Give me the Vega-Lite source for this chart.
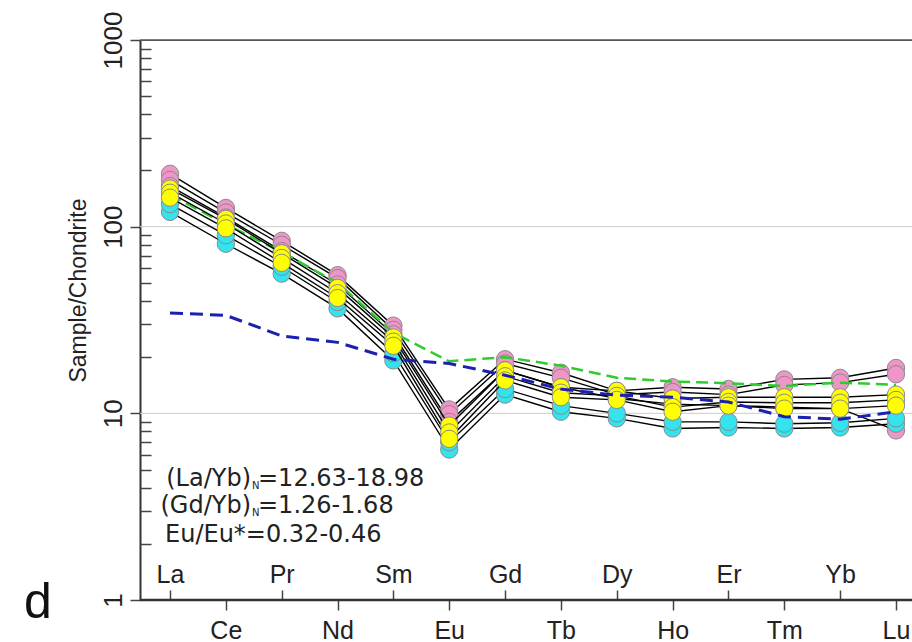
{
  "$schema": "https://vega.github.io/schema/vega-lite/v6.json",
  "width": 772,
  "height": 560,
  "autosize": {"type": "none"},
  "padding": {"left": 140, "top": 40, "right": 0, "bottom": 42},
  "background": "white",
  "config": {"view": {"stroke": null}, "axis": {"labelFont": "Liberation Sans", "titleFont": "Liberation Sans", "labelColor": "#222", "titleColor": "#222"}},
  "datasets": {
    "ree": [
      {"s":"P1","grp":"pink","el":"La","v":192},{"s":"P1","grp":"pink","el":"Ce","v":126},{"s":"P1","grp":"pink","el":"Pr","v":84},{"s":"P1","grp":"pink","el":"Nd","v":55},{"s":"P1","grp":"pink","el":"Sm","v":29.5},{"s":"P1","grp":"pink","el":"Eu","v":10.5},{"s":"P1","grp":"pink","el":"Gd","v":19.5},{"s":"P1","grp":"pink","el":"Tb","v":16.5},{"s":"P1","grp":"pink","el":"Dy","v":13.2},{"s":"P1","grp":"pink","el":"Ho","v":13.8},{"s":"P1","grp":"pink","el":"Er","v":13.5},{"s":"P1","grp":"pink","el":"Tm","v":15.2},{"s":"P1","grp":"pink","el":"Yb","v":15.5},{"s":"P1","grp":"pink","el":"Lu","v":17.5},
      {"s":"P2","grp":"pink","el":"La","v":178},{"s":"P2","grp":"pink","el":"Ce","v":119},{"s":"P2","grp":"pink","el":"Pr","v":80},{"s":"P2","grp":"pink","el":"Nd","v":53},{"s":"P2","grp":"pink","el":"Sm","v":28},{"s":"P2","grp":"pink","el":"Eu","v":9.9},{"s":"P2","grp":"pink","el":"Gd","v":18.5},{"s":"P2","grp":"pink","el":"Tb","v":15.5},{"s":"P2","grp":"pink","el":"Dy","v":12.6},{"s":"P2","grp":"pink","el":"Ho","v":13.0},{"s":"P2","grp":"pink","el":"Er","v":12.6},{"s":"P2","grp":"pink","el":"Tm","v":14.2},{"s":"P2","grp":"pink","el":"Yb","v":14.6},{"s":"P2","grp":"pink","el":"Lu","v":16.2},
      {"s":"P3","grp":"pink","el":"La","v":165},{"s":"P3","grp":"pink","el":"Ce","v":112},{"s":"P3","grp":"pink","el":"Pr","v":74},{"s":"P3","grp":"pink","el":"Nd","v":49},{"s":"P3","grp":"pink","el":"Sm","v":26.5},{"s":"P3","grp":"pink","el":"Eu","v":9.0},{"s":"P3","grp":"pink","el":"Gd","v":17.0},{"s":"P3","grp":"pink","el":"Tb","v":13.8},{"s":"P3","grp":"pink","el":"Dy","v":12.0},{"s":"P3","grp":"pink","el":"Ho","v":11.2},{"s":"P3","grp":"pink","el":"Er","v":11.0},{"s":"P3","grp":"pink","el":"Tm","v":10.8},{"s":"P3","grp":"pink","el":"Yb","v":10.6},{"s":"P3","grp":"pink","el":"Lu","v":8.1},
      {"s":"C1","grp":"cyan","el":"La","v":120},{"s":"C1","grp":"cyan","el":"Ce","v":81},{"s":"C1","grp":"cyan","el":"Pr","v":56},{"s":"C1","grp":"cyan","el":"Nd","v":36.5},{"s":"C1","grp":"cyan","el":"Sm","v":19.2},{"s":"C1","grp":"cyan","el":"Eu","v":6.4},{"s":"C1","grp":"cyan","el":"Gd","v":12.6},{"s":"C1","grp":"cyan","el":"Tb","v":10.2},{"s":"C1","grp":"cyan","el":"Dy","v":9.4},{"s":"C1","grp":"cyan","el":"Ho","v":8.3},{"s":"C1","grp":"cyan","el":"Er","v":8.4},{"s":"C1","grp":"cyan","el":"Tm","v":8.3},{"s":"C1","grp":"cyan","el":"Yb","v":8.4},{"s":"C1","grp":"cyan","el":"Lu","v":8.8},
      {"s":"C2","grp":"cyan","el":"La","v":132},{"s":"C2","grp":"cyan","el":"Ce","v":90},{"s":"C2","grp":"cyan","el":"Pr","v":61},{"s":"C2","grp":"cyan","el":"Nd","v":39.5},{"s":"C2","grp":"cyan","el":"Sm","v":21},{"s":"C2","grp":"cyan","el":"Eu","v":7.0},{"s":"C2","grp":"cyan","el":"Gd","v":13.5},{"s":"C2","grp":"cyan","el":"Tb","v":11.0},{"s":"C2","grp":"cyan","el":"Dy","v":10.0},{"s":"C2","grp":"cyan","el":"Ho","v":9.0},{"s":"C2","grp":"cyan","el":"Er","v":9.0},{"s":"C2","grp":"cyan","el":"Tm","v":8.8},{"s":"C2","grp":"cyan","el":"Yb","v":8.9},{"s":"C2","grp":"cyan","el":"Lu","v":9.4},
      {"s":"Y1","grp":"yellow","el":"La","v":160},{"s":"Y1","grp":"yellow","el":"Ce","v":110},{"s":"Y1","grp":"yellow","el":"Pr","v":72},{"s":"Y1","grp":"yellow","el":"Nd","v":47},{"s":"Y1","grp":"yellow","el":"Sm","v":25.5},{"s":"Y1","grp":"yellow","el":"Eu","v":8.6},{"s":"Y1","grp":"yellow","el":"Gd","v":17},{"s":"Y1","grp":"yellow","el":"Tb","v":13.8},{"s":"Y1","grp":"yellow","el":"Dy","v":13.2},{"s":"Y1","grp":"yellow","el":"Ho","v":12.0},{"s":"Y1","grp":"yellow","el":"Er","v":12.2},{"s":"Y1","grp":"yellow","el":"Tm","v":12.2},{"s":"Y1","grp":"yellow","el":"Yb","v":12.2},{"s":"Y1","grp":"yellow","el":"Lu","v":12.6},
      {"s":"Y2","grp":"yellow","el":"La","v":152},{"s":"Y2","grp":"yellow","el":"Ce","v":104},{"s":"Y2","grp":"yellow","el":"Pr","v":68},{"s":"Y2","grp":"yellow","el":"Nd","v":44},{"s":"Y2","grp":"yellow","el":"Sm","v":24.2},{"s":"Y2","grp":"yellow","el":"Eu","v":7.9},{"s":"Y2","grp":"yellow","el":"Gd","v":15.8},{"s":"Y2","grp":"yellow","el":"Tb","v":12.9},{"s":"Y2","grp":"yellow","el":"Dy","v":12.4},{"s":"Y2","grp":"yellow","el":"Ho","v":10.8},{"s":"Y2","grp":"yellow","el":"Er","v":11.5},{"s":"Y2","grp":"yellow","el":"Tm","v":11.4},{"s":"Y2","grp":"yellow","el":"Yb","v":11.4},{"s":"Y2","grp":"yellow","el":"Lu","v":11.8},
      {"s":"Y3","grp":"yellow","el":"La","v":143},{"s":"Y3","grp":"yellow","el":"Ce","v":98},{"s":"Y3","grp":"yellow","el":"Pr","v":64},{"s":"Y3","grp":"yellow","el":"Nd","v":41.5},{"s":"Y3","grp":"yellow","el":"Sm","v":23},{"s":"Y3","grp":"yellow","el":"Eu","v":7.3},{"s":"Y3","grp":"yellow","el":"Gd","v":15},{"s":"Y3","grp":"yellow","el":"Tb","v":12.2},{"s":"Y3","grp":"yellow","el":"Dy","v":11.8},{"s":"Y3","grp":"yellow","el":"Ho","v":10.2},{"s":"Y3","grp":"yellow","el":"Er","v":11.0},{"s":"Y3","grp":"yellow","el":"Tm","v":10.6},{"s":"Y3","grp":"yellow","el":"Yb","v":10.6},{"s":"Y3","grp":"yellow","el":"Lu","v":11.0},
      {"s":"G","grp":"green","el":"La","v":148},{"s":"G","grp":"green","el":"Ce","v":103},{"s":"G","grp":"green","el":"Pr","v":73},{"s":"G","grp":"green","el":"Nd","v":50},{"s":"G","grp":"green","el":"Sm","v":27},{"s":"G","grp":"green","el":"Eu","v":19},{"s":"G","grp":"green","el":"Gd","v":20},{"s":"G","grp":"green","el":"Tb","v":18},{"s":"G","grp":"green","el":"Dy","v":15.5},{"s":"G","grp":"green","el":"Ho","v":14.8},{"s":"G","grp":"green","el":"Er","v":14.5},{"s":"G","grp":"green","el":"Tm","v":14.0},{"s":"G","grp":"green","el":"Yb","v":14.6},{"s":"G","grp":"green","el":"Lu","v":14.2},
      {"s":"B","grp":"blue","el":"La","v":34.5},{"s":"B","grp":"blue","el":"Ce","v":33.5},{"s":"B","grp":"blue","el":"Pr","v":26},{"s":"B","grp":"blue","el":"Nd","v":24},{"s":"B","grp":"blue","el":"Sm","v":19.5},{"s":"B","grp":"blue","el":"Eu","v":18.5},{"s":"B","grp":"blue","el":"Gd","v":16},{"s":"B","grp":"blue","el":"Tb","v":13.5},{"s":"B","grp":"blue","el":"Dy","v":12.5},{"s":"B","grp":"blue","el":"Ho","v":12.2},{"s":"B","grp":"blue","el":"Er","v":11.5},{"s":"B","grp":"blue","el":"Tm","v":9.6},{"s":"B","grp":"blue","el":"Yb","v":9.3},{"s":"B","grp":"blue","el":"Lu","v":10.2}
    ],
    "ann": [
      {"part":"a","el":"La","v":4.07,"txt":"(La/Yb)"},
      {"part":"n","el":"La","v":4.07,"txt":"N"},
      {"part":"b","el":"La","v":4.07,"txt":"=12.63-18.98"},
      {"part":"a","el":"La","v":2.92,"txt":"(Gd/Yb)"},
      {"part":"n","el":"La","v":2.92,"txt":"N"},
      {"part":"b","el":"La","v":2.92,"txt":"=1.26-1.68"},
      {"part":"c","el":"La","v":2.04,"txt":"Eu/Eu*=0.32-0.46"},
      {"part":"d","el":"La","v":1,"txt":"d"}
    ],
    "frame": [
      {"v": 10, "kind": "grid"},
      {"v": 100, "kind": "grid"},
      {"v": 1000, "kind": "top"},
      {"v": 1, "kind": "axis"}
    ]
  },
  "layer": [
    {
      "data": {"name": "frame"},
      "mark": {"type": "rule"},
      "encoding": {
        "y": {"field": "v", "type": "quantitative", "scale": {"type": "log", "domain": [1, 1000], "nice": false}, "axis": null},
        "color": {"field": "kind", "scale": {"domain": ["grid", "top", "axis"], "range": ["#cccccc", "#555555", "#333333"]}, "legend": null},
        "strokeWidth": {"field": "kind", "scale": {"domain": ["grid", "top", "axis"], "range": [1, 2.5, 2]}, "legend": null}
      }
    },
    {
      "data": {"name": "ree"},
      "transform": [{"filter": "datum.grp == 'pink'"}],
      "mark": {"type": "line", "color": "black", "strokeWidth": 1.4},
      "encoding": {
        "x": {"field": "el", "type": "ordinal", "scale": {"domain": ["La","Ce","Pr","Nd","Sm","Eu","Gd","Tb","Dy","Ho","Er","Tm","Yb","Lu"], "range": [30, 756], "padding": 0},
          "axis": {"orient": "bottom", "values": ["Ce","Nd","Eu","Tb","Ho","Tm","Lu"], "title": null, "domain": false, "grid": false, "labelAngle": 0, "labelFontSize": 25, "tickSize": 10, "tickColor": "#444", "tickWidth": 1.5, "labelPadding": 8}},
        "y": {"field": "v", "type": "quantitative",
          "axis": {"orient": "left", "values": [1, 10, 100, 1000], "labelExpr": "format(datum.value, 'd')", "labelAngle": 270, "labelAlign": "center", "labelBaseline": "bottom", "labelPadding": 4, "labelFontSize": 26, "tickSize": 10, "tickColor": "#444", "tickWidth": 1.5, "domainColor": "#333", "domainWidth": 2,
            "grid": false,
            "title": "Sample/Chondrite", "titleFontSize": 23, "titleFontWeight": "normal", "titleAngle": 270, "titleX": -55, "titleY": 250, "titleAlign": "center", "titleBaseline": "alphabetic"}},
        "detail": {"field": "s"}
      }
    },
    {
      "data": {"name": "ree"},
      "transform": [{"filter": "datum.grp == 'pink'"}],
      "mark": {"type": "circle", "size": 300, "opacity": 1, "stroke": "#8a8a8a", "strokeWidth": 1},
      "encoding": {
        "x": {"field": "el", "type": "ordinal", "axis": null},
        "y": {"field": "v", "type": "quantitative", "axis": null},
        "fill": {"field": "grp", "scale": {"domain": ["pink","cyan","yellow"], "range": ["#ef95c8","#35e3ef","#ffff00"]}, "legend": null}
      }
    },
    {
      "data": {"name": "ree"},
      "transform": [{"filter": "datum.grp == 'cyan'"}],
      "mark": {"type": "line", "color": "black", "strokeWidth": 1.4},
      "encoding": {
        "x": {"field": "el", "type": "ordinal", "axis": null},
        "y": {"field": "v", "type": "quantitative", "axis": null},
        "detail": {"field": "s"}
      }
    },
    {
      "data": {"name": "ree"},
      "transform": [{"filter": "datum.grp == 'cyan'"}],
      "mark": {"type": "circle", "size": 300, "opacity": 1, "stroke": "#8a8a8a", "strokeWidth": 1},
      "encoding": {
        "x": {"field": "el", "type": "ordinal", "axis": null},
        "y": {"field": "v", "type": "quantitative", "axis": null},
        "fill": {"field": "grp", "legend": null}
      }
    },
    {
      "data": {"name": "ree"},
      "transform": [{"filter": "datum.grp == 'green'"}],
      "mark": {"type": "line", "color": "#2ecc2e", "strokeWidth": 2.5, "strokeDash": [12, 6]},
      "encoding": {
        "x": {"field": "el", "type": "ordinal", "axis": null},
        "y": {"field": "v", "type": "quantitative", "axis": null}
      }
    },
    {
      "data": {"name": "ree"},
      "transform": [{"filter": "datum.grp == 'yellow'"}],
      "mark": {"type": "line", "color": "black", "strokeWidth": 1.4},
      "encoding": {
        "x": {"field": "el", "type": "ordinal", "axis": null},
        "y": {"field": "v", "type": "quantitative", "axis": null},
        "detail": {"field": "s"}
      }
    },
    {
      "data": {"name": "ree"},
      "transform": [{"filter": "datum.grp == 'yellow'"}],
      "mark": {"type": "circle", "size": 300, "opacity": 1, "stroke": "#8a8a8a", "strokeWidth": 1},
      "encoding": {
        "x": {"field": "el", "type": "ordinal", "axis": null},
        "y": {"field": "v", "type": "quantitative", "axis": null},
        "fill": {"field": "grp", "legend": null}
      }
    },
    {
      "data": {"name": "ree"},
      "transform": [{"filter": "datum.grp == 'blue'"}],
      "mark": {"type": "line", "color": "#1c20b0", "strokeWidth": 3, "strokeDash": [13, 7]},
      "encoding": {
        "x": {"field": "el", "type": "ordinal",
          "axis": {"orient": "top", "offset": -560, "values": ["La","Pr","Sm","Gd","Dy","Er","Yb"], "title": null, "domain": false, "grid": false, "labelAngle": 0, "labelFontSize": 25, "tickSize": 10, "tickColor": "#444", "tickWidth": 1.5, "labelPadding": 3, "labelBaseline": "bottom"}},
        "y": {"field": "v", "type": "quantitative",
          "axis": {"orient": "right", "offset": -772, "values": [2,3,4,5,6,7,8,9,20,30,40,50,60,70,80,90,200,300,400,500,600,700,800,900], "labels": false, "domain": false, "grid": false, "title": null, "tickSize": 11, "tickColor": "#444", "tickWidth": 1.5}}
      }
    },
    {
      "data": {"name": "ann"},
      "transform": [{"filter": "datum.part == 'a'"}],
      "mark": {"type": "text", "font": "DejaVu Sans", "fontSize": 24, "align": "right", "baseline": "alphabetic", "dx": 81, "color": "#222"},
      "encoding": {
        "x": {"field": "el", "type": "ordinal", "axis": null},
        "y": {"field": "v", "type": "quantitative", "axis": null},
        "text": {"field": "txt"}
      }
    },
    {
      "data": {"name": "ann"},
      "transform": [{"filter": "datum.part == 'n'"}],
      "mark": {"type": "text", "font": "DejaVu Sans", "fontSize": 10, "align": "left", "baseline": "alphabetic", "dx": 82, "dy": 3, "color": "#222"},
      "encoding": {
        "x": {"field": "el", "type": "ordinal", "axis": null},
        "y": {"field": "v", "type": "quantitative", "axis": null},
        "text": {"field": "txt"}
      }
    },
    {
      "data": {"name": "ann"},
      "transform": [{"filter": "datum.part == 'b'"}],
      "mark": {"type": "text", "font": "DejaVu Sans", "fontSize": 24, "align": "left", "baseline": "alphabetic", "dx": 88, "color": "#222"},
      "encoding": {
        "x": {"field": "el", "type": "ordinal", "axis": null},
        "y": {"field": "v", "type": "quantitative", "axis": null},
        "text": {"field": "txt"}
      }
    },
    {
      "data": {"name": "ann"},
      "transform": [{"filter": "datum.part == 'c'"}],
      "mark": {"type": "text", "font": "DejaVu Sans", "fontSize": 24, "align": "left", "baseline": "alphabetic", "dx": -5, "color": "#222"},
      "encoding": {
        "x": {"field": "el", "type": "ordinal", "axis": null},
        "y": {"field": "v", "type": "quantitative", "axis": null},
        "text": {"field": "txt"}
      }
    },
    {
      "data": {"name": "ann"},
      "transform": [{"filter": "datum.part == 'd'"}],
      "mark": {"type": "text", "font": "Liberation Sans", "fontSize": 50, "align": "left", "baseline": "alphabetic", "dx": -146, "dy": 18, "color": "#111"},
      "encoding": {
        "x": {"field": "el", "type": "ordinal", "axis": null},
        "y": {"field": "v", "type": "quantitative", "axis": null},
        "text": {"field": "txt"}
      }
    }
  ],
  "resolve": {"axis": {"x": "independent", "y": "independent"}}
}
